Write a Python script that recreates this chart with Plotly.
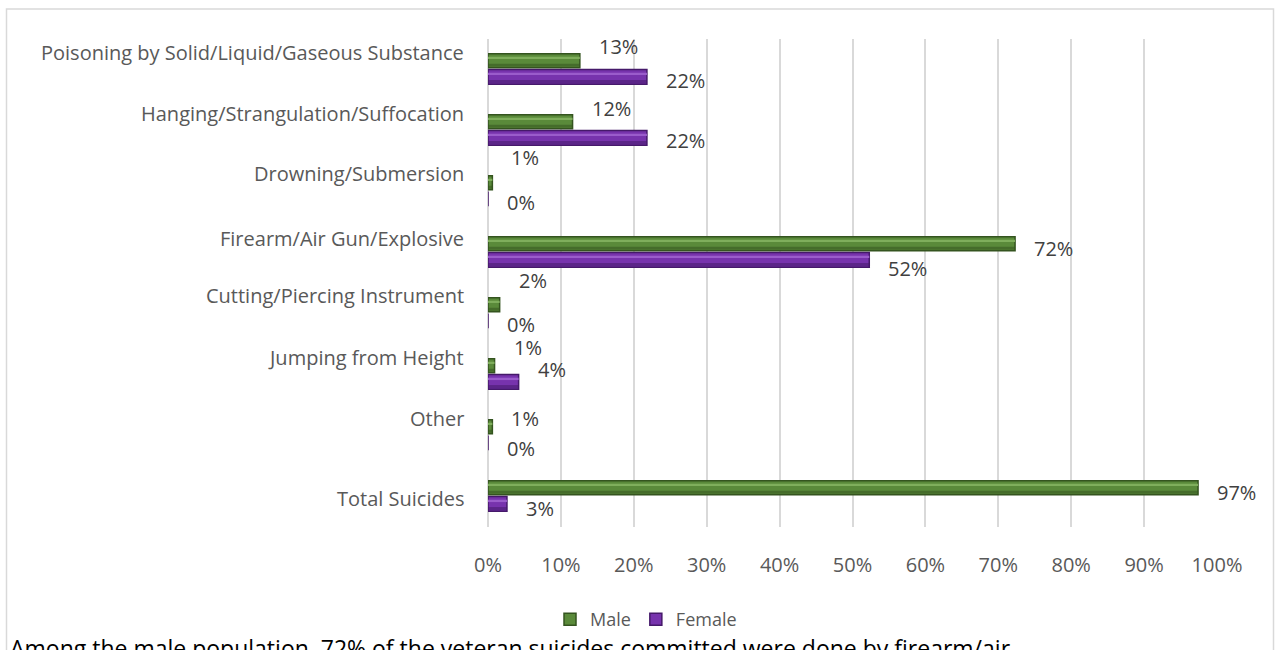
import plotly.graph_objects as go

# Veteran suicides by method, share of each sex (percent)
categories = [
    "Poisoning by Solid/Liquid/Gaseous Substance",
    "Hanging/Strangulation/Suffocation",
    "Drowning/Submersion",
    "Firearm/Air Gun/Explosive",
    "Cutting/Piercing Instrument",
    "Jumping from Height",
    "Other",
    "Total Suicides",
]
male = [12.6, 11.6, 0.6, 72.3, 1.6, 0.9, 0.6, 97.4]
female = [21.8, 21.8, 0.0, 52.3, 0.0, 4.2, 0.0, 2.6]
x_ticks = list(range(0, 101, 10))
caption = ("Among the male population, 72% of the veteran suicides committed "
           "were done by firearm/air")

# label nudges in pixels (upwards positive)
cat_label_dy = [17, 17, 18, 14, 18, 17, 17, -2]
male_label_dy = [14, 13, 25, -5, 24, 18, 8, -5]
female_label_dy = [-4, -3, -4, -9, -4, 12, -6, -5]

FONT = "Open Sans"
FS = 20
GREEN, GREEN_EDGE, GREEN_HI = "#5A8A3A", "#34541F", "#7FAE5C"
PURPLE, PURPLE_EDGE, PURPLE_HI = "#7733AD", "#45196A", "#9A5CCB"
GRID = "#D9D9D9"
TEXT = "#595959"

idx = list(range(len(categories)))
M_OFF, M_W = -0.26, 0.23
F_OFF, F_W = 0.0, 0.24

fig = go.Figure()


def add_series(name, values, off, width, fill, edge, hi):
    fig.add_trace(go.Bar(
        name=name, orientation="h", x=values, y=idx,
        offset=off, width=width, legendgroup=name,
        marker=dict(color=fill, line=dict(color=edge, width=1.5)),
    ))
    # bevel highlight along the upper part of each bar
    fig.add_trace(go.Bar(
        name=name, orientation="h", x=values, y=idx,
        offset=off + width * 0.22, width=width * 0.16, legendgroup=name,
        showlegend=False, hoverinfo="skip",
        marker=dict(color=hi, line=dict(width=0)),
    ))
    # darker shading along the lower edge
    fig.add_trace(go.Bar(
        name=name, orientation="h", x=values, y=idx,
        offset=off + width * 0.72, width=width * 0.22, legendgroup=name,
        showlegend=False, hoverinfo="skip",
        marker=dict(color=edge, opacity=0.55, line=dict(width=0)),
    ))


add_series("Male", male, M_OFF, M_W, GREEN, GREEN_EDGE, GREEN_HI)
add_series("Female", female, F_OFF, F_W, PURPLE, PURPLE_EDGE, PURPLE_HI)

annotations = []
for i, name in enumerate(categories):
    annotations.append(dict(
        x=0, xref="paper", y=i, yref="y", text=name, showarrow=False,
        xanchor="right", yanchor="middle", xshift=-22, yshift=cat_label_dy[i],
        font=dict(family=FONT, size=FS, color=TEXT),
    ))
for i in idx:
    annotations.append(dict(
        x=male[i], xref="x", y=i + M_OFF + M_W / 2, yref="y",
        text=f"{round(male[i])}%", showarrow=False,
        xanchor="left", yanchor="middle", xshift=17, yshift=male_label_dy[i],
        font=dict(family=FONT, size=FS, color="#404040"),
    ))
    annotations.append(dict(
        x=female[i], xref="x", y=i + F_OFF + F_W / 2, yref="y",
        text=f"{round(female[i])}%", showarrow=False,
        xanchor="left", yanchor="middle", xshift=17, yshift=female_label_dy[i],
        font=dict(family=FONT, size=FS, color="#404040"),
    ))

# plot area: x 488..1217 px, y 39..529 px
L, R, T, B = 488, 59, 39, 121
W, H = 1276, 650
pw, ph = W - L - R, H - T - B


def px_x(p):
    return (p - L) / pw


def px_y(p):
    return (H - B - p) / ph


annotations.append(dict(
    x=px_x(8), xref="paper", y=px_y(632), yref="paper", text=caption,
    showarrow=False, xanchor="left", yanchor="top",
    font=dict(family=FONT, size=23, color="#000000"),
))

fig.update_layout(
    width=W, height=H,
    margin=dict(l=L, r=R, t=T, b=B),
    paper_bgcolor="white", plot_bgcolor="white",
    barmode="overlay",
    showlegend=True,
    legend=dict(
        orientation="h", x=px_x(646), xanchor="center",
        y=px_y(622), yanchor="middle",
        font=dict(family=FONT, size=18, color=TEXT),
        itemwidth=30, traceorder="normal", tracegroupgap=0,
    ),
    annotations=annotations,
    shapes=[dict(
        type="rect", xref="paper", yref="paper",
        x0=px_x(6.5), x1=px_x(1273.5), y0=px_y(700), y1=px_y(9),
        line=dict(color=GRID, width=1.5), fillcolor="rgba(0,0,0,0)",
        layer="below",
    )],
    xaxis=dict(
        range=[0, 100], tickvals=x_ticks, ticktext=[f"{v}%" for v in x_ticks],
        showgrid=True, gridcolor=GRID, gridwidth=1.5,
        zeroline=True, zerolinecolor=GRID, zerolinewidth=1.5,
        ticks="outside", ticklen=20, tickcolor="rgba(0,0,0,0)",
        tickfont=dict(family=FONT, size=FS, color=TEXT),
        showline=False, fixedrange=True,
    ),
    yaxis=dict(
        range=[len(categories) - 0.5, -0.5], showticklabels=False,
        showgrid=False, zeroline=False, showline=False, ticks="",
        fixedrange=True,
    ),
)

fig.write_html("out.html")
